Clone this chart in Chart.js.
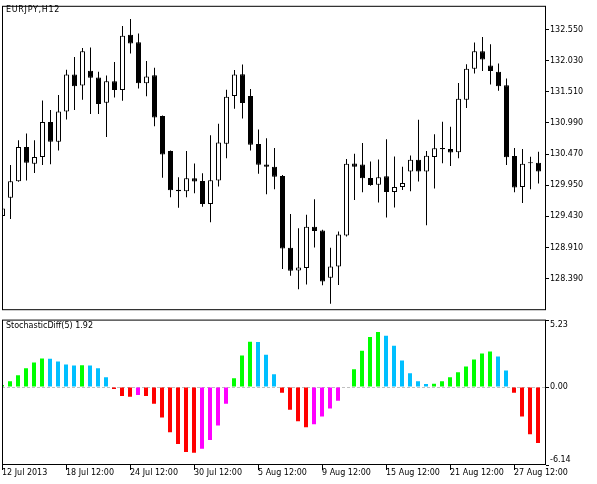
<!DOCTYPE html>
<html><head><meta charset="utf-8">
<script src="https://cdn.jsdelivr.net/npm/chart.js@4/dist/chart.umd.min.js"></script>
<style>
html,body{margin:0;padding:0;background:#fff;width:597px;height:484px;overflow:hidden;}
canvas{position:absolute;left:0;}
#top{top:0}
#bot{top:310px}
.lbl{position:absolute;font-family:"DejaVu Sans";font-size:8px;line-height:10px;color:#000;white-space:nowrap;}
</style></head><body>
<canvas id="top" width="597" height="316"></canvas>
<canvas id="bot" width="597" height="174"></canvas>
<div class="lbl" style="left:6px;top:5px;letter-spacing:0.7px">EURJPY,H12</div>
<div class="lbl" style="left:6px;top:321px">StochasticDiff(5) 1.92</div>
<script>
// ---- data (EURJPY H12 candles) ----
const opens  = [129.434,129.741,130.017,130.589,130.309,130.422,131.006,130.675,131.184,131.800,
                131.615,131.864,131.751,131.330,131.686,131.540,132.464,132.339,131.654,131.788,
                131.108,130.524,129.876,129.848,130.066,130.022,129.638,130.027,130.643,131.443,
                131.805,131.443,130.638,130.297,130.260,130.103,128.904,128.526,128.568,129.255,
                129.195,128.406,128.591,129.109,130.314,130.297,130.070,129.957,130.098,129.839,
                129.920,130.179,130.374,130.179,130.422,130.552,130.557,130.503,131.378,131.897,
                132.189,131.950,131.848,131.621,130.438,129.920,130.318,130.325];
const highs  = [129.617,130.286,130.703,130.816,130.703,131.367,131.205,131.459,131.881,132.091,
                132.242,132.253,131.848,131.783,132.010,132.610,132.728,132.485,132.027,131.913,
                131.115,130.530,130.082,130.524,130.314,130.152,130.784,130.978,131.545,131.874,
                131.967,131.557,130.881,130.735,130.573,130.120,129.471,129.233,129.455,129.714,
                129.207,128.904,129.179,130.390,130.476,130.654,130.346,130.378,130.719,130.432,
                130.260,130.448,131.043,130.524,130.800,131.010,130.929,131.659,131.971,132.334,
                132.425,132.307,131.983,131.735,130.573,130.557,130.427,130.508];
const lows   = [129.390,129.385,130.010,130.027,130.156,130.286,130.302,130.529,131.048,131.205,
                131.378,131.140,131.140,130.756,131.416,131.362,132.150,131.566,131.437,130.934,
                130.075,129.751,129.573,129.751,129.816,129.589,129.330,129.929,130.399,131.226,
                131.064,130.529,130.140,129.800,129.881,128.552,128.439,128.212,128.293,128.909,
                128.277,127.969,128.283,129.093,129.703,129.832,129.941,129.660,129.411,129.579,
                129.871,129.848,130.011,129.281,129.897,130.318,130.270,130.399,131.242,131.816,
                131.858,131.631,131.529,130.286,129.832,129.654,129.881,129.978];
const closes = [129.563,130.017,130.589,130.325,130.422,131.006,130.675,131.184,131.800,131.605,
                132.189,131.745,131.307,131.686,131.540,132.448,132.318,131.654,131.767,131.080,
                130.464,129.865,129.848,130.066,130.011,129.638,130.033,130.665,131.427,131.800,
                131.323,130.626,130.293,130.260,130.092,128.892,128.520,128.575,129.255,129.184,
                128.341,128.591,129.126,130.309,130.260,130.066,129.952,130.082,129.839,129.920,
                129.989,130.374,130.179,130.443,130.568,130.573,130.497,131.395,131.897,132.189,
                132.052,131.858,131.605,130.416,129.913,130.309,130.330,130.179];
// ---- StochasticDiff(5) histogram ----
const stochDiff = [0.16,0.46,0.93,1.47,1.93,2.25,2.23,2.01,1.78,1.69,
                   1.71,1.70,1.47,0.77,-0.15,-0.70,-0.77,-0.62,-0.70,-1.31,
                   -2.40,-3.56,-4.48,-5.11,-5.18,-4.87,-4.18,-3.02,-1.31,0.70,
                   2.48,3.57,3.55,2.55,1.01,-0.46,-1.78,-2.70,-3.17,-2.94,
                   -2.32,-1.70,-1.08,0,1.39,2.86,3.94,4.33,4.03,3.25,
                   2.09,1.08,0.46,0.24,0.26,0.46,0.77,1.16,1.62,2.16,
                   2.63,2.79,2.40,1.31,-0.46,-2.32,-3.71,-4.41];
// ---- axes ----
const timeTickBars   = [0,8,16,24,32,40,48,56,64];
const timeTickLabels = ['12 Jul 2013','18 Jul 12:00','24 Jul 12:00','30 Jul 12:00','5 Aug 12:00',
                        '9 Aug 12:00','15 Aug 12:00','21 Aug 12:00','27 Aug 12:00'];
const priceTicks = [128.390,128.910,129.430,129.950,130.470,130.990,131.510,132.030,132.550];
const priceMin = 127.862, priceMax = 132.948;
const diffMin = -6.14, diffMax = 5.23;
const diffTicks = [diffMin, 0, diffMax];

Chart.defaults.font.family = 'DejaVu Sans';
Chart.defaults.font.size = 8;
Chart.defaults.color = '#000';

const framePlugin = {
  id: 'frame',
  afterDraw(chart, args, opts) {
    const {ctx, chartArea: a} = chart;
    ctx.save();
    ctx.strokeStyle = '#000';
    ctx.lineWidth = 1;
    const x1 = a.left + 0.5, x2 = a.right - 0.5;
    const y1 = a.top + (opts.dTop || 0) + 0.5, y2 = a.bottom - 0.5;
    ctx.strokeRect(x1, y1, x2 - x1, y2 - y1);
    ctx.restore();
  }
};

const idx = opens.map((_, i) => i);
const common = {responsive: false, animation: false, events: []};

new Chart(document.getElementById('top'), {
  type: 'bar',
  data: {
    datasets: [
      {
        label: 'body',
        data: idx.map(i => ({x: i, y: [opens[i], closes[i]]})),
        barThickness: 5, borderWidth: 1, borderColor: '#000', borderSkipped: false,
        backgroundColor: c => closes[c.dataIndex] >= opens[c.dataIndex] ? '#ffffff' : '#000000',
        grouped: false, order: 1, minBarLength: 1, inflateAmount: 0
      },
      {
        label: 'wick',
        data: idx.map(i => ({x: i, y: [lows[i], highs[i]]})),
        barThickness: 1, borderWidth: 0, backgroundColor: '#000',
        grouped: false, order: 2, inflateAmount: 0
      }
    ]
  },
  options: Object.assign({}, common, {
    layout: {padding: {left: 2, top: 2, right: 0, bottom: 1}},
    plugins: {legend: {display: false}, tooltip: {enabled: false}, frame: {dTop: 0}},
    scales: {
      x: {type: 'linear', display: false, offset: false, min: -0.0625, max: 67.9375},
      y: {
        position: 'right', min: priceMin, max: priceMax,
        afterFit: s => { s.width = 51; },
        afterBuildTicks: s => { s.ticks = priceTicks.map(v => ({value: v})); },
        ticks: {callback: v => Number(v).toFixed(3), padding: 1, autoSkip: false},
        grid: {drawOnChartArea: false, tickLength: 3, tickColor: '#000'},
        border: {display: false}
      }
    }
  }),
  plugins: [framePlugin]
});

function diffColor(i) {
  const v = stochDiff[i], p = i > 0 ? stochDiff[i - 1] : v;
  if (v >= 0) return v >= p ? '#00ff00' : '#00bfff';
  return v <= p ? '#ff0000' : '#ff00ff';
}

new Chart(document.getElementById('bot'), {
  type: 'bar',
  data: {
    datasets: [{
      label: 'StochasticDiff',
      data: stochDiff.map((v, i) => ({x: i, y: v})),
      barThickness: 4, borderWidth: 0, inflateAmount: 0,
      backgroundColor: c => diffColor(c.dataIndex)
    }]
  },
  options: Object.assign({}, common, {
    layout: {padding: {left: 2, top: 7, right: 0, bottom: 0}},
    plugins: {legend: {display: false}, tooltip: {enabled: false}, frame: {dTop: -1}},
    scales: {
      x: {
        type: 'linear', offset: false, min: 0, max: 68,
        afterFit: s => { s.height = 19; },
        afterBuildTicks: s => { s.ticks = timeTickBars.map(v => ({value: v})); },
        ticks: {
          callback: v => timeTickLabels[timeTickBars.indexOf(v)],
          align: 'start', maxRotation: 0, minRotation: 0, autoSkip: false, padding: -1,
          font: {lineHeight: 1}
        },
        grid: {offset: false, drawOnChartArea: false, tickLength: 5, tickColor: '#000'},
        border: {display: false}
      },
      y: {
        position: 'right', min: diffMin, max: diffMax,
        afterFit: s => { s.width = 51; },
        afterBuildTicks: s => { s.ticks = diffTicks.slice().sort((a, b) => a - b).map(v => ({value: v})); },
        ticks: {
          callback: v => {
            const t = Number(v).toFixed(2);
            if (v === diffMax) return ['', t];
            if (v === diffMin) return [t, ''];
            return t;
          },
          padding: 1, autoSkip: false
        },
        grid: {
          color: c => (c.tick && c.tick.value === 0) ? '#c0c0c0' : 'rgba(0,0,0,0)',
          tickColor: '#000', tickLength: 3
        },
        border: {display: false, dash: [3, 2]}
      }
    }
  }),
  plugins: [framePlugin]
});
</script>
</body></html>
